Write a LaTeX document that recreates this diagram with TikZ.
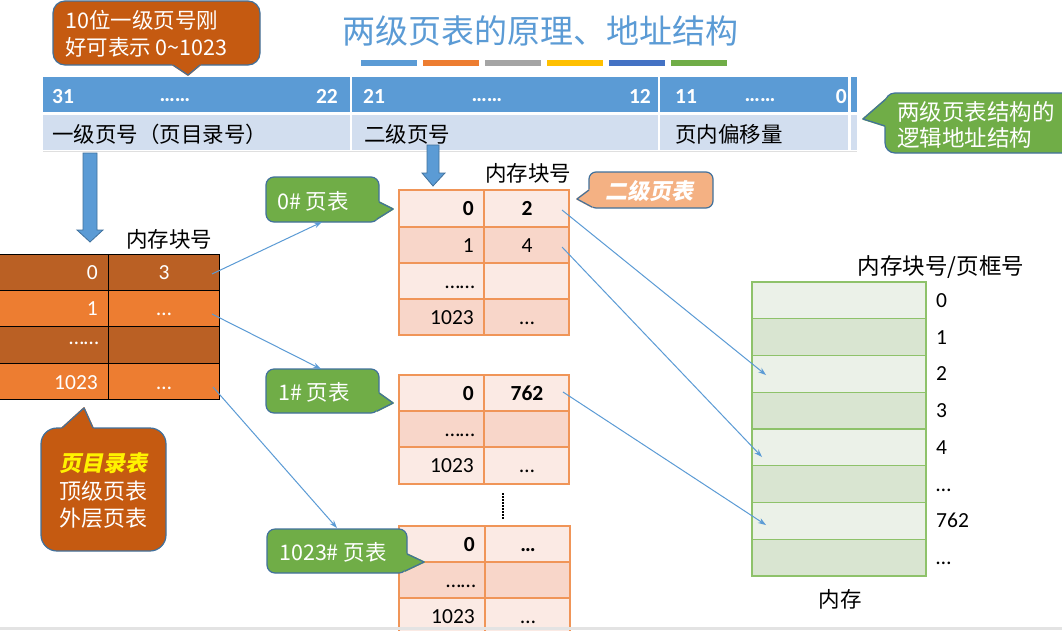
\documentclass[tikz,border=0pt]{standalone}
\usepackage{fontspec}
\setmainfont{Carlito}
\newfontfamily\cjk{Noto Sans CJK SC}
\newfontfamily\cjksl[FakeSlant=0.2]{Noto Sans CJK SC}
\usetikzlibrary{arrows.meta}
\newcommand\fsz[2]{\fontsize{#1}{#2}\selectfont}
\definecolor{hblue}{HTML}{5B9BD5}
\definecolor{cborder}{HTML}{41719C}
\definecolor{lrow}{HTML}{D2DEEF}
\definecolor{cdark}{HTML}{C55A11}
\definecolor{dirdark}{HTML}{BA6024}
\definecolor{corange}{HTML}{ED7D31}
\definecolor{cgray}{HTML}{A5A5A5}
\definecolor{cyellow}{HTML}{FFC000}
\definecolor{cdblue}{HTML}{4472C4}
\definecolor{cgreen}{HTML}{70AD47}
\definecolor{lorange}{HTML}{F4B183}
\definecolor{tborder}{HTML}{F09558}
\definecolor{tlight}{HTML}{FBEAE4}
\definecolor{tdark}{HTML}{F8D6C9}
\definecolor{mlight}{HTML}{EBF1E8}
\definecolor{mdark}{HTML}{D9E5D1}
\definecolor{mborder}{HTML}{8EC26A}
\newcommand\ptr[4]{%
  \filldraw[fill=#4,draw=#4,line width=1.6pt,line join=round] #1 -- #2 -- #3 -- cycle;
  \draw[draw=cborder,line width=1.2pt,line join=round] #1 -- #2 -- #3;}
\begin{document}
\begin{tikzpicture}[x=1pt,y=-1pt,
  cb/.style={draw=cborder,line width=1.2pt},
  conn/.style={draw=hblue,line width=1pt,-{Stealth[length=8pt,width=5.5pt]}},
  hnum/.style={text=white,font=\bfseries\fsz{21.5}{25},inner sep=0pt},
  lab/.style={font=\cjk\fsz{21.5}{25},inner sep=0pt},
  tnum/.style={font=\fsz{21.5}{25},inner sep=0pt},
  ctext/.style={font=\cjk\fsz{21.5}{27},inner sep=0pt,text=white},
  barrow/.style={fill=hblue,draw=cborder,line width=0.8pt},
]
\useasboundingbox (0,0) rectangle (1062,630);
\fill[white] (0,0) rectangle (1062,630);

% title
\node[font=\cjk\fsz{33}{37},text=hblue,inner sep=0pt] (title) at (540,31) {两级页表的原理、地址结构};
\foreach \c [count=\i from 0] in {hblue,corange,cgray,cyellow,cdblue,cgreen}
  \fill[\c] (361+62*\i,60) rectangle +(56,6);

% header
\fill[hblue] (43,77) rectangle (350,112);
\fill[hblue] (352,77) rectangle (658,112);
\fill[hblue] (660,77) rectangle (848,112);
\fill[hblue] (851,77) rectangle (857,112);
\fill[lrow] (43,115) rectangle (350,150);
\fill[lrow] (352,115) rectangle (658,150);
\fill[lrow] (660,115) rectangle (848,150);
\fill[lrow] (851,115) rectangle (857,150);
\draw[gray!25,line width=0.8pt] (43,151.5) -- (857,151.5);
\node[hnum,anchor=base west] (b31) at (52,103) {31};
\node[hnum,anchor=base] (b1d) at (175,101) {……};
\node[hnum,anchor=base east] (b22) at (338,103) {22};
\node[hnum,anchor=base west] (b21) at (363,103) {21};
\node[hnum,anchor=base] (b2d) at (487,101) {……};
\node[hnum,anchor=base east] (b12) at (651,103) {12};
\node[hnum,anchor=base west] (b11) at (675,103) {11};
\node[hnum,anchor=base] (b3d) at (760,101) {……};
\node[hnum,anchor=base east] (b0) at (847,103) {0};
\node[lab,anchor=west] (l1) at (52,134) {一级页号（页目录号）};
\node[lab,anchor=west] (l2) at (364,134) {二级页号};
\node[lab,anchor=west] (l3) at (675,134) {页内偏移量};

% block arrows
\filldraw[barrow] (83,153) -- (97,153) -- (97,230) -- (103,230) -- (90,242) -- (77,230) -- (83,230) -- cycle;
\filldraw[barrow] (427,145) -- (439,145) -- (439,173) -- (445,173) -- (433,186) -- (422,173) -- (427,173) -- cycle;

% page directory table
\fill[dirdark] (0,254) rectangle (219,290);
\fill[corange] (0,290) rectangle (219,326);
\fill[dirdark] (0,326) rectangle (219,363);
\fill[corange] (0,363) rectangle (219,399);
\draw[black,line width=1pt] (-1,254) rectangle (219,399);
\draw[black,line width=1pt] (-1,290) -- (219,290) (-1,326) -- (219,326) (-1,363) -- (219,363) (108,254) -- (108,399);
\node[lab] (dirlab) at (169,239) {内存块号};
\node[tnum,text=white,anchor=base east] (p0) at (98,279) {0};
\node[tnum,text=white,anchor=base east] (p1) at (98,315) {1};
\node[tnum,text=white,anchor=base east] (p2) at (99,344) {……};
\node[tnum,text=white,anchor=base east] (p3) at (98,389) {1023};
\node[tnum,text=white,anchor=base] (q0) at (164,279) {3};
\node[tnum,text=white,anchor=base] (q1) at (164,315) {…};
\node[tnum,text=white,anchor=base] (q3) at (164,389) {…};

% second-level table A
\fill[tlight] (399,190) rectangle (569,227);
\fill[tdark] (399,227) rectangle (569,263);
\fill[tlight] (399,263) rectangle (569,299);
\fill[tdark] (399,299) rectangle (569,335);
\draw[tborder,line width=1.3pt] (399,190) rectangle (569,335);
\draw[tborder,line width=1.3pt] (399,227) -- (569,227) (399,263) -- (569,263) (399,299) -- (569,299) (484,190) -- (484,335);
\node[lab] (alab) at (528,173) {内存块号};
\node[tnum,font=\bfseries\fsz{21.5}{25},anchor=base east] (a00) at (474,215.5) {0};
\node[tnum,font=\bfseries\fsz{21.5}{25},anchor=base] (a01) at (527,215.5) {2};
\node[tnum,anchor=base east] (a10) at (474,252) {1};
\node[tnum,anchor=base] (a11) at (527,252) {4};
\node[tnum,anchor=base east] (a20) at (475,288) {……};
\node[tnum,anchor=base east] (a30) at (474,324) {1023};
\node[tnum,anchor=base] (a31) at (527,324) {…};

% table B
\fill[tlight] (399,375) rectangle (569,411);
\fill[tdark] (399,411) rectangle (569,447);
\fill[tlight] (399,447) rectangle (569,484);
\draw[tborder,line width=1.3pt] (399,375) rectangle (569,484);
\draw[tborder,line width=1.3pt] (399,411) -- (569,411) (399,447) -- (569,447) (484,375) -- (484,484);
\node[tnum,font=\bfseries\fsz{21.5}{25},anchor=base east] (b00) at (474,400) {0};
\node[tnum,font=\bfseries\fsz{21.5}{25},anchor=base] (b01) at (527,400) {762};
\node[tnum,anchor=base east] (b10) at (475,436) {……};
\node[tnum,anchor=base east] (b20) at (474,472.5) {1023};
\node[tnum,anchor=base] (b21x) at (527,472.5) {…};

\draw[black,line width=2pt,dash pattern=on 1.5pt off 1.5pt] (503,493) -- (503,520);

% table C
\fill[tlight] (399,526) rectangle (570,562);
\fill[tdark] (399,562) rectangle (570,598);
\fill[tlight] (399,598) rectangle (570,634);
\draw[tborder,line width=1.3pt] (399,526) rectangle (570,634);
\draw[tborder,line width=1.3pt] (399,562) -- (570,562) (399,598) -- (570,598) (485,526) -- (485,634);
\node[tnum,font=\bfseries\fsz{21.5}{25},anchor=base east] (c00) at (475,551) {0};
\node[tnum,font=\bfseries\fsz{21.5}{25},anchor=base] (c01) at (528,551) {…};
\node[tnum,anchor=base east] (c10) at (476,587) {……};
\node[tnum,anchor=base east] (c20) at (475,623) {1023};
\node[tnum,anchor=base] (c21) at (528,623) {…};

% memory
\foreach \i in {0,...,7}{
  \pgfmathsetmacro\ya{282+36.75*\i}
  \pgfmathsetmacro\yb{282+36.75*(\i+1)}
  \pgfmathtruncatemacro\odd{mod(\i,2)}
  \ifnum\odd=0 \fill[mlight] (752,\ya) rectangle (926,\yb); \else \fill[mdark] (752,\ya) rectangle (926,\yb); \fi
  \draw[mborder,line width=1.2pt] (752,\ya) rectangle (926,\yb);
}
\node[lab,font=\cjk\fsz{22.5}{26}] (memtitle) at (941,267) {内存块号/页框号};
\node[lab] (memlab) at (840,599) {内存};
\foreach \t [count=\i from 0] in {0,1,2,3,4,…,762,…}
  \node[tnum,anchor=base west] (mem\i) at (936,{282+36.75*\i+18.4+7}) {\t};

% callouts
\filldraw[fill=cdark,cb,rounded corners=12pt] (53,1) rectangle (260,65);
\ptr{(173,65)}{(188,75)}{(200,65)}{cdark}
\node[ctext,anchor=west] (tl1) at (65,20) {10位一级页号刚};
\node[ctext,anchor=west] (tl2) at (65,47) {好可表示 0\textasciitilde 1023};

\filldraw[fill=cgreen,cb,rounded corners=10pt] (885,93) rectangle (1085,153);
\ptr{(886,99)}{(863,119)}{(885,126)}{cgreen}
\node[ctext,anchor=west,font=\cjk\fsz{22.5}{27}] (gr1) at (897,112) {两级页表结构的};
\node[ctext,anchor=west,font=\cjk\fsz{22.5}{27}] (gr2) at (897,138) {逻辑地址结构};

\filldraw[fill=cgreen,cb,rounded corners=8pt] (266,177) rectangle (379,222);
\ptr{(379,202)}{(393,209)}{(377,219)}{cgreen}
\node[ctext,anchor=west] (g0) at (277,201) {0\# 页表};

\filldraw[fill=cgreen,cb,rounded corners=8pt] (266,369) rectangle (379,413);
\ptr{(379,393)}{(393,403)}{(377,411)}{cgreen}
\node[ctext,anchor=west] (g1) at (278,392) {1\# 页表};

\filldraw[fill=cgreen,cb,rounded corners=8pt] (267,529) rectangle (407,573);
\ptr{(407,554)}{(424,562)}{(405,571)}{cgreen}
\node[ctext,anchor=west] (g3) at (279,552) {1023\# 页表};

\filldraw[fill=lorange,cb,rounded corners=7pt] (589,172) rectangle (713,208);
\ptr{(589,190)}{(577,199)}{(592,207)}{lorange}
\node[ctext,font=\cjksl\bfseries\fsz{22}{26}] (second) at (649,191) {二级页表};

\filldraw[fill=cdark,cb,rounded corners=16pt] (41,428) rectangle (166,551);
\ptr{(62,428)}{(84,408)}{(93,428)}{cdark}
\node[ctext,anchor=center,text=yellow,font=\cjksl\bfseries\fsz{22}{26}] (bl1) at (103,463) {页目录表};
\node[ctext,anchor=center,font=\cjk\fsz{22}{26}] (bl2) at (103,491) {顶级页表};
\node[ctext,anchor=center,font=\cjk\fsz{22}{26}] (bl3) at (103,518) {外层页表};

% bottom strip
\fill[gray!22] (0,627) rectangle (1062,630);

% connectors
\coordinate (d0) at (212,274);
\coordinate (d1) at (212,314);
\coordinate (d3) at (213,387);
\coordinate (t0) at (322,222);
\coordinate (t1) at (321,369);
\coordinate (t3) at (337,528);
\coordinate (sa0) at (562,210);
\coordinate (sa1) at (562,247);
\coordinate (sb0) at (563,392);
\coordinate (m2) at (766,375);
\coordinate (m4) at (762,457);
\coordinate (m6) at (766,525);
\draw[conn] (d0) -- (t0);
\draw[conn] (d1) -- (t1);
\draw[conn] (d3) -- (t3);
\draw[conn] (sa0) -- (m2);
\draw[conn] (sa1) -- (m4);
\draw[conn] (sb0) -- (m6);
\end{tikzpicture}
\end{document}
